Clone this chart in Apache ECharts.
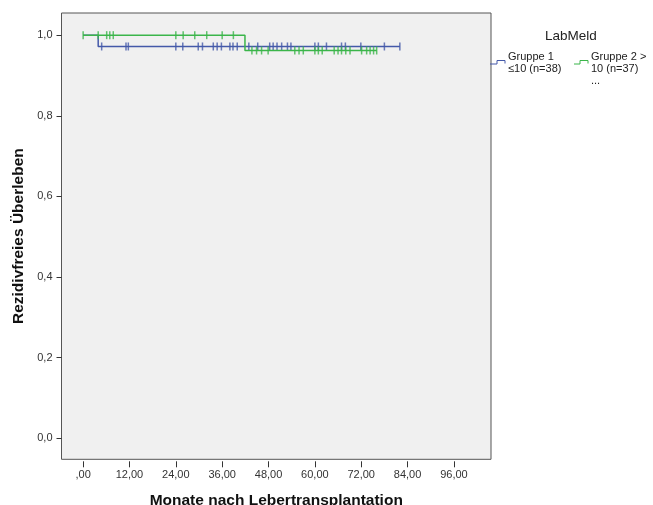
<!DOCTYPE html>
<html>
<head>
<meta charset="utf-8">
<script src="https://cdn.jsdelivr.net/npm/echarts@6/dist/echarts.min.js"></script>
<style>
html,body{margin:0;padding:0;background:#fff;}
#chart{width:653px;height:505px;}
</style>
</head>
<body>
<div id="chart"></div>
<script>
// Kaplan-Meier steps (time in months, survival)
var blueStepTimes = [0, 3.9, 82.0];
var blueStepSurv  = [1.0, 0.972, 0.972];
var blueCensor = [4.8, 11.1, 11.7, 24.0, 25.8, 29.8, 30.9, 33.7, 34.7, 35.8, 38.0, 38.8, 39.9,
  42.9, 45.2, 48.3, 49.2, 50.2, 51.4, 52.9, 53.8, 60.0, 60.9, 63.0, 66.9, 67.9, 71.9, 78.0, 82.0];

var greenStepTimes = [0, 41.9, 76.0];
var greenStepSurv  = [1.0, 0.962, 0.962];
var greenCensor = [0, 3.9, 6.1, 6.9, 7.8, 24.0, 25.9, 28.9, 32.0, 36.0, 38.9,
  43.7, 44.9, 46.2, 47.9, 54.8, 55.9, 57.0, 60.0, 60.9, 61.9, 65.0, 66.0, 66.9, 68.0, 69.1,
  72.1, 73.4, 74.3, 75.2, 76.0];

var xTicks = [0, 12, 24, 36, 48, 60, 72, 84, 96];
var yTicks = [0, 0.2, 0.4, 0.6, 0.8, 1.0];

var seriesNames = ['Gruppe 1 ≤10 (n=38)', 'Gruppe 2 > 10 (n=37)'];
var legendTitle = 'LabMeld';

var BLUE = '#4459a9', GREEN = '#3bb54a';

function stepData(t, s) { return t.map(function (v, i) { return [v, s[i]]; }); }
function survAt(t, s, x) {
  var v = s[0];
  for (var i = 0; i < t.length; i++) { if (t[i] <= x) v = s[i]; }
  return v;
}
function censorData(c, t, s) { return c.map(function (x) { return [x, survAt(t, s, x)]; }); }

var chart = echarts.init(document.getElementById('chart'), null, {renderer: 'canvas'});
var FONT = 'Liberation Sans';

chart.setOption({
  animation: false,
  backgroundColor: '#ffffff',
  grid: {
    left: 61.5, right: 162, top: 13, bottom: 45.7,
    containLabel: false, outerBoundsMode: 'none',
    show: true, backgroundColor: '#f0f0f0', borderColor: '#555555', borderWidth: 1
  },
  xAxis: {
    type: 'value', min: -5.6, max: 105.6, offset: 2,
    name: 'Monate nach Lebertransplantation', nameLocation: 'middle', nameGap: 31.5,
    nameTextStyle: {fontFamily: FONT, fontSize: 15.5, fontWeight: 'bold', color: '#111'},
    axisLine: {show: false, onZero: false},
    axisTick: {show: true, inside: false, length: 6, customValues: xTicks, lineStyle: {color: '#333', width: 1}},
    axisLabel: {customValues: xTicks, margin: 8, fontFamily: FONT, fontSize: 11, color: '#333',
      formatter: function (v) { return v === 0 ? ',00' : v.toFixed(2).replace('.', ','); }},
    splitLine: {show: false}
  },
  yAxis: {
    type: 'value', min: -0.052, max: 1.055,
    name: 'Rezidivfreies Überleben', nameLocation: 'middle', nameGap: 34, nameRotate: 90,
    nameTextStyle: {fontFamily: FONT, fontSize: 15.5, fontWeight: 'bold', color: '#111'},
    axisLine: {show: false, onZero: false},
    axisTick: {show: true, inside: false, length: 5, customValues: yTicks, lineStyle: {color: '#333', width: 1}},
    axisLabel: {customValues: yTicks, margin: 9, fontFamily: FONT, fontSize: 11, color: '#333',
      formatter: function (v) { return v.toFixed(1).replace('.', ','); }},
    splitLine: {show: false}
  },
  series: [
    {name: seriesNames[0], type: 'line', step: 'end', showSymbol: false, symbol: 'none',
      data: stepData(blueStepTimes, blueStepSurv), lineStyle: {color: BLUE, width: 1.5}, z: 2},
    {name: seriesNames[0], type: 'scatter', symbol: 'rect', symbolSize: [1.5, 8],
      data: censorData(blueCensor, blueStepTimes, blueStepSurv), itemStyle: {color: BLUE}, z: 2},
    {name: seriesNames[1], type: 'line', step: 'end', showSymbol: false, symbol: 'none',
      data: stepData(greenStepTimes, greenStepSurv), lineStyle: {color: GREEN, width: 1.5}, z: 3},
    {name: seriesNames[1], type: 'scatter', symbol: 'rect', symbolSize: [1.5, 8],
      data: censorData(greenCensor, greenStepTimes, greenStepSurv), itemStyle: {color: GREEN}, z: 3}
  ],
  graphic: [
    {type: 'text', left: 545, top: 29, style: {text: legendTitle, font: '13.5px ' + FONT, fill: '#222'}},
    {type: 'polyline', shape: {points: [[490, 64], [497, 64], [497, 60.5], [505, 60.5], [505, 63.5]]},
      style: {stroke: BLUE, lineWidth: 1, fill: null}},
    {type: 'text', left: 508, top: 51, style: {text: 'Gruppe 1\n≤10 (n=38)', font: '11px ' + FONT, fill: '#222', lineHeight: 12}},
    {type: 'polyline', shape: {points: [[574, 64], [580, 64], [580, 60.5], [588, 60.5], [588, 63.5]]},
      style: {stroke: GREEN, lineWidth: 1, fill: null}},
    {type: 'text', left: 591, top: 51, style: {text: 'Gruppe 2 >\n10 (n=37)\n...', font: '11px ' + FONT, fill: '#222', lineHeight: 12}}
  ]
});
</script>
</body>
</html>
